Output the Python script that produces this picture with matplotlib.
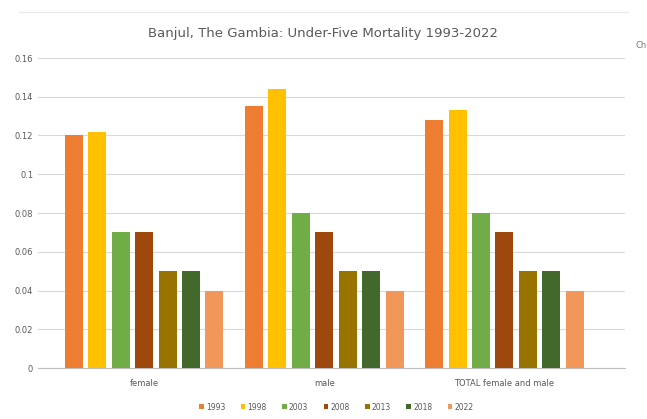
import numpy as np
import matplotlib.pyplot as plt

groups = ['female', 'male', 'TOTAL female and male']
years = ['1993', '1998', '2003', '2008', '2013', '2018', '2022']
v1993 = [0.120, 0.135, 0.128]
v1998 = [0.122, 0.144, 0.133]
v2003 = [0.070, 0.080, 0.080]
v2008 = [0.070, 0.070, 0.070]
v2013 = [0.050, 0.050, 0.050]
v2018 = [0.050, 0.050, 0.050]
v2022 = [0.040, 0.040, 0.040]
series = [v1993, v1998, v2003, v2008, v2013, v2018, v2022]
colors = ['#ED7D31', '#FFC000', '#70AD47', '#9E480E', '#997300', '#43682B', '#F1975A']

fig = plt.figure(figsize=(6.47, 4.19), dpi=100)
ax = fig.add_axes([38/647, 51/419, 587/647, 310/419])

x = np.arange(len(groups))
pitch = 0.13
w = 0.10
for i, (vals, c, yr) in enumerate(zip(series, colors, years)):
    ax.bar(x + (i - 3) * pitch, vals, width=w, color=c, label=yr, zorder=3)

ax.set_xlim(-0.59, 2.67)
ax.set_ylim(0, 0.16)
ax.set_yticks(np.arange(0, 0.161, 0.02))
ax.set_yticklabels(['0', '0.02', '0.04', '0.06', '0.08', '0.1', '0.12', '0.14', '0.16'])
ax.set_xticks(x)
ax.set_xticklabels(groups)
ax.tick_params(axis='both', length=0, labelsize=6, colors='#595959')
ax.tick_params(axis='x', pad=8)
ax.grid(axis='y', color='#d9d9d9', linewidth=0.8, zorder=0)
for s in ['top', 'right', 'left']:
    ax.spines[s].set_visible(False)
ax.spines['bottom'].set_color('#bfbfbf')

fig.text(0.5, 1 - 33/419, 'Banjul, The Gambia: Under-Five Mortality 1993-2022',
         ha='center', va='center', fontsize=9.5, color='#595959')
fig.legend(loc='center', bbox_to_anchor=(0.52, 1 - 407/419), ncol=7, frameon=False,
           fontsize=5.5, handlelength=0.6, handleheight=0.6, columnspacing=2.0,
           handletextpad=0.3, labelcolor='#595959')
fig.text(636/647, 1 - 45/419, 'Ch', fontsize=6, color='#777777', va='center')
fig.add_artist(plt.Line2D([0.03, 0.97], [1 - 12/419, 1 - 12/419], color='#e8e8e8', linewidth=0.8))

plt.savefig('out.png', dpi=100)
